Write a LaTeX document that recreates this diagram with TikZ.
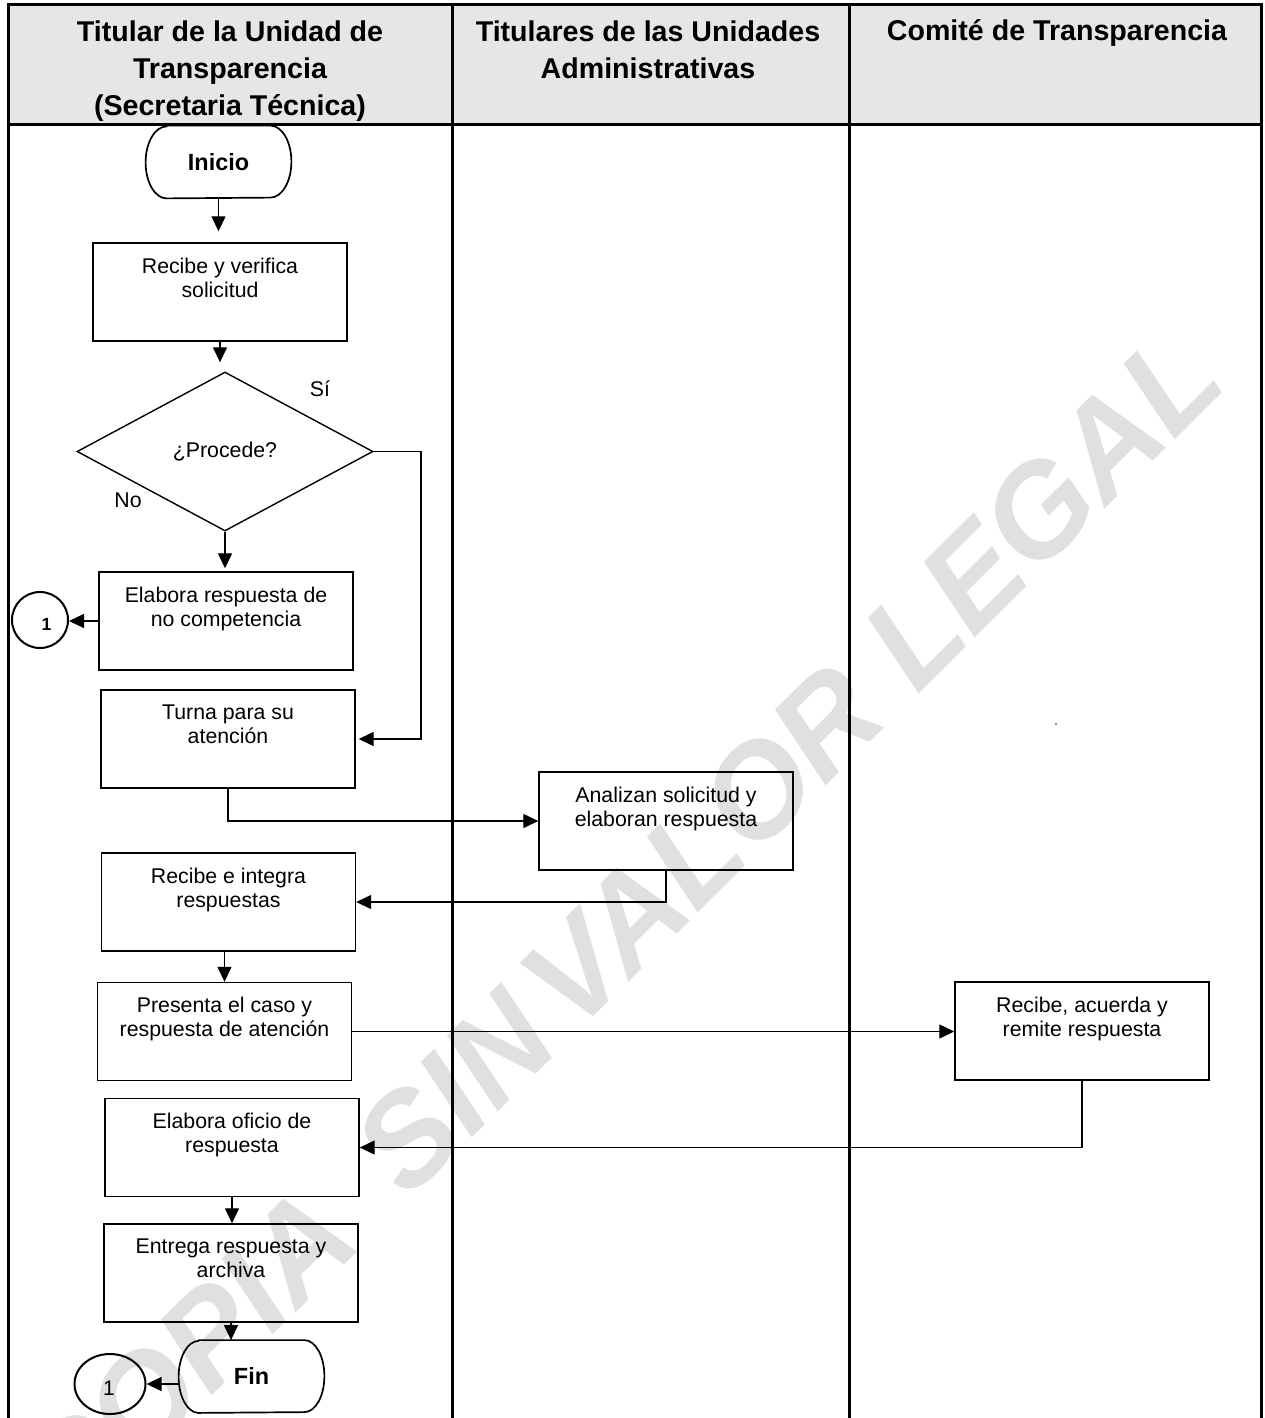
\documentclass[tikz,border=0pt]{standalone}
\usepackage{fontspec}
\setmainfont{Liberation Sans}
\usetikzlibrary{calc,arrows.meta,shapes.geometric}
\definecolor{hdrgray}{RGB}{230,230,230}
\definecolor{wmgray}{RGB}{224,224,227}
\newcommand\mkbox[3]{\node[procbox] (#1) at (#2) {};\node[boxtext] (#1t) at ($(#1.north)+(0,-7.6pt)$) {#3};}
\newcommand\drawterm[2]{\draw[termline] ($(#1.north west)+(#2,0)$) -- ($(#1.north east)+(-#2,0)$) arc[start angle=90,end angle=-90,x radius=#2,y radius=18pt] -- ($(#1.south west)+(#2,0)$) arc[start angle=-90,end angle=-270,x radius=#2,y radius=18pt] -- cycle;}
\tikzset{
  frameline/.style={line width=1.5pt},
  procbox/.style={draw, line width=0.7pt, minimum width=127pt, minimum height=49pt, inner sep=0pt},
  boxtext/.style={anchor=north, inner sep=0pt, align=center, font=\fontsize{10.65pt}{12pt}\selectfont},
  conn/.style={line width=0.65pt, -{Triangle[length=7.5pt,width=7pt]}},
  termnode/.style={minimum width=72.5pt, minimum height=36pt, inner sep=0pt, font=\bfseries\fontsize{11.7pt}{14pt}\selectfont},
  termline/.style={line width=0.85pt},
  hdrtext/.style={inner sep=0pt, align=center, font=\bfseries\fontsize{14.3pt}{18.5pt}\selectfont},
  lbl/.style={inner sep=0pt, font=\fontsize{10.65pt}{12pt}\selectfont},
  conncirc/.style={draw, line width=1pt, inner sep=0pt},
  wm/.style={text=wmgray, inner sep=0pt, rotate=44.8, anchor=base east, font=\bfseries\itshape\fontsize{65pt}{70pt}\selectfont},
}
\begin{document}
\begin{tikzpicture}[x=0.5pt,y=-0.5pt]
\useasboundingbox (0,0) rectangle (1264,1418);
\fill[white] (0,0) rectangle (1264,1418);
\fill[hdrgray] (8,5) rectangle (1261,125);
% watermark
\begin{scope}
\clip (0,0) rectangle (1264,1418);
\node[wm] (wm3) at (1230,385) {VALOR LEGAL};
\node[wm] (wm2) at (563,1047.3) {SIN};
\node[wm] (wm1) at (364.3,1244.6) {COPIA};
\end{scope}
% frame
\draw[frameline] (8,1425) -- (8,5) -- (1261,5) -- (1261,1425);
\draw[frameline] (8,125) -- (1261,125);
\draw[frameline] (452,5) -- (452,1425);
\draw[frameline] (849,5) -- (849,1425);
% headers
\node[hdrtext, anchor=north] (h1) at (230,20) {Titular de la Unidad de\\Transparencia\\(Secretaria Técnica)};
\node[hdrtext, anchor=north] (h2) at (648,20) {Titulares de las Unidades\\Administrativas};
\node[hdrtext, anchor=base] (h3) at (1057,41) {Comité de Transparencia};
% terminals
\node[termnode] (inicio) at (218.5,162) {Inicio};
\drawterm{inicio}{10.5pt}
\node[termnode] (fin) at (251.5,1376.5) {Fin};
\drawterm{fin}{10pt}
% process boxes
\mkbox{recibe}{220,292}{Recibe y verifica\\solicitud}
\mkbox{elab}{226,621}{Elabora respuesta de\\no competencia}
\mkbox{turna}{228,739}{Turna para su\\atención}
\mkbox{anal}{666,821}{Analizan solicitud y\\elaboran respuesta}
\mkbox{reci2}{228.5,902}{Recibe e integra\\respuestas}
\mkbox{pres}{224.5,1031.5}{Presenta el caso y\\respuesta de atención}
\mkbox{rac}{1082,1031}{Recibe, acuerda y\\remite respuesta}
\mkbox{ofi}{232,1147.5}{Elabora oficio de\\respuesta}
\mkbox{ent}{231,1273}{Entrega respuesta y\\archiva}
% decision
\node[draw, diamond, line width=0.7pt, minimum width=148pt, minimum height=79.5pt, inner sep=0pt, font=\fontsize{10.65pt}{12pt}\selectfont] (dia) at (225,451.5) {¿Procede?};
\node[lbl] (silbl) at (320,389) {Sí};
\node[lbl] (nolbl) at (128,500) {No};
% off-page connectors
\node[conncirc, circle, minimum size=28pt] (c1) at (40,620) {};
\node[inner sep=0pt, font=\bfseries\fontsize{8.8pt}{10pt}\selectfont] (c1t) at (46.5,624) {1};
\node[conncirc, ellipse, minimum width=35.5pt, minimum height=30pt] (c2) at (110,1384) {};
\node[lbl, font=\fontsize{10.5pt}{12pt}\selectfont] (c2t) at (109,1388) {1};
% stray dot
\fill[black!60] (1056,724) circle[radius=0.6pt];
% arrows
\draw[conn, shorten >=5.5pt] (inicio.south) -- (inicio.south |- recibe.north);
\draw[conn, shorten >=4.5pt] (recibe.south) -- (recibe.south |- dia.north);
\draw[conn, shorten >=1.5pt] (dia.south) -- (dia.south |- elab.north);
\draw[conn] (elab.west) -- (elab.west -| c1.east);
\coordinate (sicorner) at (421,451.5);
\draw[conn, shorten >=1.5pt] (dia.east) -- (sicorner) |- (turna.east);
\draw[conn] (turna.south) |- (anal.west);
\draw[conn] (anal.south) |- (reci2.east);
\draw[conn] (pres.north |- reci2.south) -- (pres.north);
\draw[conn] (pres.east) -- (pres.east -| rac.west);
\draw[conn] (rac.south) |- (ofi.east);
\draw[conn] (ofi.south) -- (ofi.south |- ent.north);
\draw[conn] (ent.south) -- (ent.south |- fin.north);
\draw[conn] (fin.west |- c2.east) -- (c2.east);
\end{tikzpicture}
\end{document}
